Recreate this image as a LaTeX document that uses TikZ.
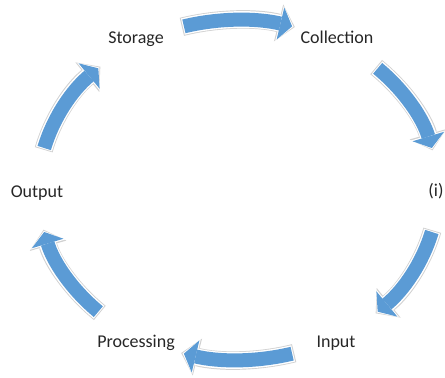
\documentclass[tikz,border=0pt]{standalone}
\usepackage{fontspec}
\setmainfont{Carlito}
\usepackage{tikz}
\usetikzlibrary{arrows.meta}
\definecolor{cycblue}{HTML}{5B9BD5}
\tikzset{
    %Define style for the labels
    lbl/.style={
           font=\fontsize{18bp}{22bp}\selectfont,
           text=black!85,
           text height=12bp,
           text depth=3.5bp,
           inner sep=0pt},
    %Define style for the block arrows
    rim/.style={
           draw=black!18,
           line width=18.5bp,
           -{Triangle[width=38bp,length=16.7bp,line width=0pt]}},
    halo/.style={
           draw=white,
           line width=16.8bp,
           -{Triangle[width=35.8bp,length=14.3bp,line width=0pt]}},
    cyc/.style={
           draw=cycblue,
           line width=14bp,
           -{Triangle[width=33bp,length=12bp,line width=0pt]}}
}
\begin{document}
\begin{tikzpicture}[x=1bp,y=1bp]
\useasboundingbox (0,0) rectangle (445,377);
\coordinate (hub) at (238,187);
\node[lbl] (storage) at (136,338) {Storage};
\node[lbl] (collection) at (337,338) {Collection};
\node[lbl] (i) at (436,185) {(i)};
\node[lbl] (input) at (336,34) {Input};
\node[lbl] (processing) at (136,34) {Processing};
\node[lbl] (output) at (37,184) {Output};
% one arrow between each pair of labels
\foreach \c in {90,30,-30,-90,-150,150}{
  \draw[rim] ([shift={(\c+16.3:200 and 170)}]hub)
      arc[start angle=\c+16.3, end angle=\c-16.5, x radius=200, y radius=170];
  \draw[halo] ([shift={(\c+16:200 and 170)}]hub)
      arc[start angle=\c+16, end angle=\c-16.1, x radius=200, y radius=170];
  \draw[cyc] ([shift={(\c+15.7:200 and 170)}]hub)
      arc[start angle=\c+15.7, end angle=\c-15.7, x radius=200, y radius=170];
}
\end{tikzpicture}
\end{document}
